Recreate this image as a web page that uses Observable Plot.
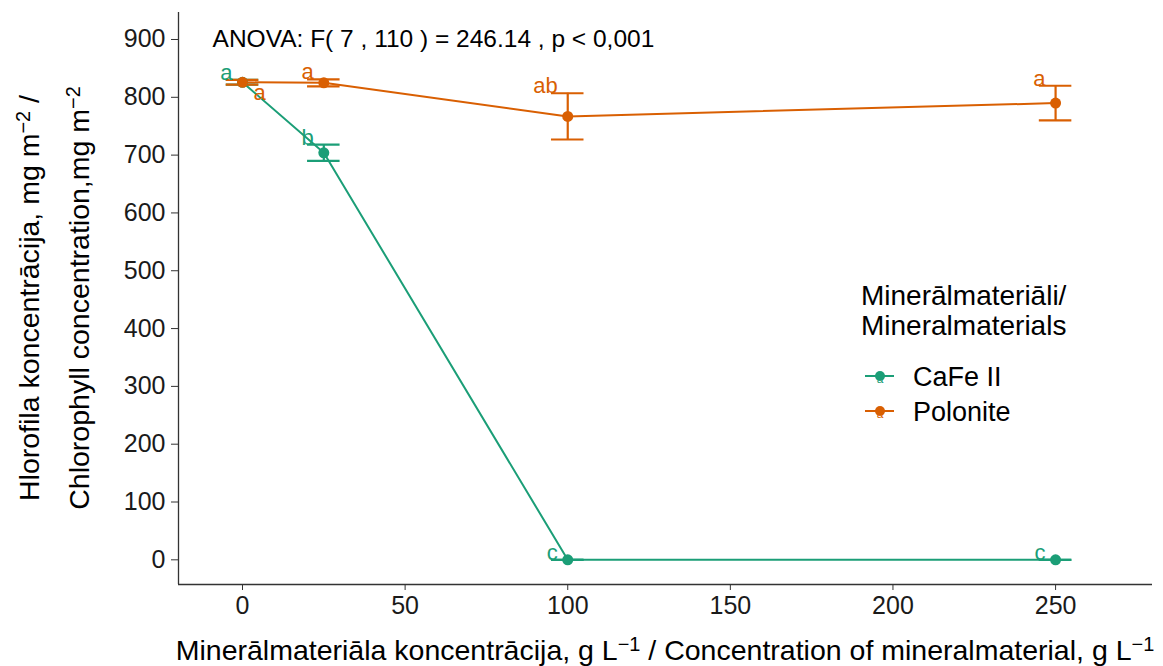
<!DOCTYPE html>
<html><head><meta charset="utf-8">
<script src="https://cdn.jsdelivr.net/npm/d3@7"></script>
<script src="https://cdn.jsdelivr.net/npm/@observablehq/plot@0.6"></script>
<style>
body{margin:0;background:#fff;}
#chart{position:relative;width:1163px;height:666px;font-family:"Liberation Sans",Arial,sans-serif;}
</style>
</head><body><div id="chart"></div>
<script>
// ---- data ----
const concentrations = [0, 25, 100, 250];
const cafeMeans = [826, 704, 0, 0];
const cafeSE = [4, 14, 0, 0];
const cafeLetters = ["a", "b", "c", "c"];
const poloniteMeans = [826, 825, 767, 790];
const poloniteSE = [4, 6, 40, 30];
const poloniteLetters = ["a", "a", "ab", "a"];
const seriesNames = ["CaFe II", "Polonite"];
const seriesColors = ["#1B9E77", "#D95F02"];
const xTicks = [0, 50, 100, 150, 200, 250];
const yTicks = [0, 100, 200, 300, 400, 500, 600, 700, 800, 900];
const anovaText = "ANOVA: F( 7 , 110 ) = 246.14 , p < 0,001";
const legendTitle = ["Minerālmateriāli/", "Mineralmaterials"];

// ---- table ----
const rows = [];
concentrations.forEach((c, i) => rows.push({series: seriesNames[0], x: c, mean: cafeMeans[i], se: cafeSE[i], letter: cafeLetters[i]}));
concentrations.forEach((c, i) => rows.push({series: seriesNames[1], x: c, mean: poloniteMeans[i], se: poloniteSE[i], letter: poloniteLetters[i]}));
// a letter that would collide with another series' letter at the same x goes to the other side
rows.forEach((r, i) => {
  r.flip = rows.some((o, j) => j < i && o.x === r.x && Math.abs((o.mean + o.se) - (r.mean + r.se)) < 20);
});
const normal = rows.filter(r => !r.flip);
const flipped = rows.filter(r => r.flip);

const xDomain = [-19.68, 279.8];
const yDomain = [-42.7, 946.7];
const cap = 5;
const color = {domain: seriesNames, range: seriesColors};

const plot = Plot.plot({
  width: 1163, height: 666,
  marginLeft: 178, marginRight: 11, marginTop: 12, marginBottom: 82,
  style: {fontFamily: '"Liberation Sans", Arial, sans-serif', background: "#fff", color: "#1a1a1a", overflow: "visible"},
  x: {domain: xDomain},
  y: {domain: yDomain},
  color,
  marks: [
    Plot.ruleX([xDomain[0]], {stroke: "#333", strokeWidth: 1.3}),
    Plot.ruleY([yDomain[0]], {stroke: "#333", strokeWidth: 1.3}),
    Plot.axisX({ticks: xTicks, tickSize: 6, tickPadding: 6, fontSize: 25, label: null, stroke: "#333", fill: "#1a1a1a"}),
    Plot.axisY({ticks: yTicks, tickSize: 7, tickPadding: 6, fontSize: 25, label: null, stroke: "#333", fill: "#1a1a1a"}),
    Plot.line(rows, {x: "x", y: "mean", z: "series", stroke: "series", strokeWidth: 2}),
    Plot.ruleX(rows, {x: "x", y1: d => d.mean - d.se, y2: d => d.mean + d.se, stroke: "series", strokeWidth: 2.2}),
    Plot.ruleY(rows, {y: d => d.mean + d.se, x1: d => d.x - cap, x2: d => d.x + cap, stroke: "series", strokeWidth: 2.2}),
    Plot.ruleY(rows, {y: d => d.mean - d.se, x1: d => d.x - cap, x2: d => d.x + cap, stroke: "series", strokeWidth: 2.2}),
    Plot.dot(rows, {x: "x", y: "mean", fill: "series", r: 5.5}),
    Plot.text(normal, {x: "x", y: d => d.mean + d.se, text: "letter", fill: "series", fontSize: 22, textAnchor: "end", lineAnchor: "bottom", dx: -10}),
    Plot.text(flipped, {x: "x", y: d => d.mean - d.se, text: "letter", fill: "series", fontSize: 22, textAnchor: "start", lineAnchor: "top", dx: 11}),
    Plot.text([anovaText], {x: -9.2, y: 900, text: d => d, fontSize: 24.5, textAnchor: "start", fill: "#000"})
  ]
});
document.getElementById("chart").appendChild(plot);

// ---- titles and legend added to the svg ----
const svg = d3.select(plot);
const FONT = '"Liberation Sans", Arial, sans-serif';
function richText(g, parts) {
  parts.forEach(p => {
    if (typeof p === "string") g.append("tspan").text(p);
    else g.append("tspan").attr("baseline-shift", "45%").attr("font-size", "0.7em").text(p.sup);
  });
}
const xt = svg.append("text").attr("x", 665).attr("y", 660).attr("text-anchor", "middle")
  .attr("font-family", FONT).attr("font-size", 28.5).attr("fill", "#000");
richText(xt, ["Minerālmateriāla koncentrācija, g L", {sup: "−1"}, " / Concentration of mineralmaterial, g L", {sup: "−1"}]);

const yt1 = svg.append("text").attr("transform", "translate(39,298) rotate(-90)").attr("text-anchor", "middle")
  .attr("font-family", FONT).attr("font-size", 28.5).attr("fill", "#000");
richText(yt1, ["Hlorofila koncentrācija, mg m", {sup: "−2"}, " /"]);
const yt2 = svg.append("text").attr("transform", "translate(89,298) rotate(-90)").attr("text-anchor", "middle")
  .attr("font-family", FONT).attr("font-size", 28.5).attr("fill", "#000");
richText(yt2, ["Chlorophyll concentration,mg m", {sup: "−2"}]);

const lg = svg.append("g").attr("font-family", FONT).attr("fill", "#000").attr("text-anchor", "start");
legendTitle.forEach((t, i) => lg.append("text").attr("x", 861).attr("y", 305 + i * 30).attr("font-size", 28).attr("text-anchor", "start").text(t));
seriesNames.forEach((s, i) => {
  const cy = 376 + i * 35;
  const c = seriesColors[i];
  lg.append("line").attr("x1", 865).attr("x2", 894).attr("y1", cy).attr("y2", cy).attr("stroke", c).attr("stroke-width", 2);
  lg.append("circle").attr("cx", 880).attr("cy", cy).attr("r", 5).attr("fill", c);
  lg.append("text").attr("x", 880).attr("y", cy + 7).attr("text-anchor", "middle").attr("font-size", 12).attr("fill", c).text("a");
  lg.append("text").attr("x", 913).attr("y", cy + 10).attr("font-size", 27).attr("text-anchor", "start").text(s);
});
</script>
</body></html>
